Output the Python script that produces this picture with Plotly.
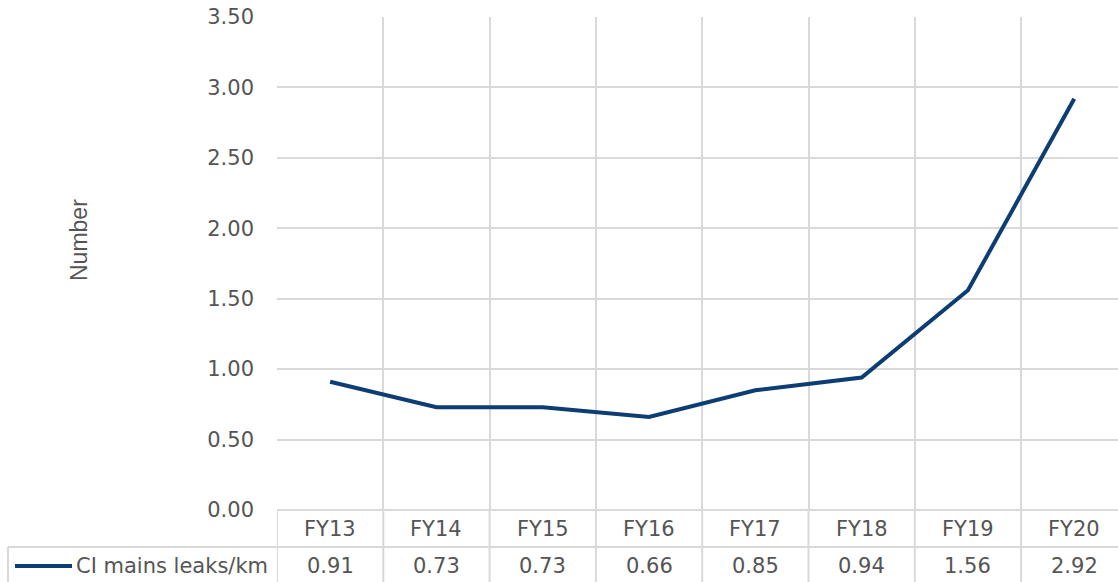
import plotly.graph_objects as go
import numpy as np

categories = ["FY13", "FY14", "FY15", "FY16", "FY17", "FY18", "FY19", "FY20"]
values = [0.91, 0.73, 0.73, 0.66, 0.85, 0.94, 1.56, 2.92]
series_name = "CI mains leaks/km"
y_title = "Number"

W, H = 1118, 582
L, T, B = 277, 17, 72
plot_w = W - L
plot_h = H - T - B
col_px = 106.3
x_min = -0.5
x_max = x_min + plot_w / col_px

txt = "#555555"
grid = "#d9d9d9"
line_c = "#0c3d73"
font_main = "DejaVu Sans"
fs = 21

def py(Y):  # pixel y -> paper y
    return (H - B - Y) / plot_h

def px(X):  # pixel x -> paper x
    return (X - L) / plot_w

xs = list(range(len(categories)))

fig = go.Figure()
fig.add_trace(go.Scatter(x=xs, y=values, mode="lines",
                         line=dict(color=line_c, width=4),
                         name=series_name, showlegend=False))

shapes = []
for b in np.arange(-0.5, len(categories), 1.0):
    shapes.append(dict(type="line", xref="x", yref="paper", x0=b, x1=b,
                       y0=py(582 + 5), y1=0, line=dict(color=grid, width=2), layer="below"))
shapes.append(dict(type="line", xref="paper", yref="paper", x0=0, x1=1.02,
                   y0=0, y1=0, line=dict(color=grid, width=2), layer="below"))
shapes.append(dict(type="line", xref="paper", yref="paper", x0=px(8), x1=1.02,
                   y0=py(547), y1=py(547), line=dict(color=grid, width=2), layer="below"))
shapes.append(dict(type="line", xref="paper", yref="paper", x0=px(8), x1=px(8),
                   y0=py(547), y1=py(590), line=dict(color=grid, width=2), layer="below"))
shapes.append(dict(type="line", xref="paper", yref="paper", x0=px(15), x1=px(72),
                   y0=py(566), y1=py(566), line=dict(color=line_c, width=4)))

annotations = []
for i, c in enumerate(categories):
    annotations.append(dict(x=i, y=py(529), xref="x", yref="paper", text=c,
                            showarrow=False, font=dict(family=font_main, size=fs, color=txt),
                            xanchor="center", yanchor="middle"))
    annotations.append(dict(x=i, y=py(566), xref="x", yref="paper", text=f"{values[i]:.2f}",
                            showarrow=False, font=dict(family=font_main, size=fs, color=txt),
                            xanchor="center", yanchor="middle"))
annotations.append(dict(x=px(270), y=py(566), xref="paper", yref="paper", text=series_name,
                        showarrow=False, font=dict(family=font_main, size=fs, color=txt),
                        xanchor="right", yanchor="middle"))
annotations.append(dict(x=px(79), y=py(240), xref="paper", yref="paper", text=y_title,
                        textangle=-90, showarrow=False,
                        font=dict(family="Liberation Sans", size=23, color=txt),
                        xanchor="center", yanchor="middle"))

fig.update_layout(
    width=W, height=H,
    margin=dict(l=L, r=0, t=T, b=B, pad=0),
    paper_bgcolor="white", plot_bgcolor="white",
    shapes=shapes, annotations=annotations,
    xaxis=dict(range=[x_min, x_max], tick0=-0.5, dtick=1, showticklabels=False,
               showgrid=True, gridcolor=grid, gridwidth=2, zeroline=False, showline=False),
    yaxis=dict(range=[0, 3.5], dtick=0.5, tickformat=".2f", showgrid=True,
               gridcolor=grid, gridwidth=2, zeroline=False, showline=False,
               ticklabelstandoff=22,
               tickfont=dict(family=font_main, size=fs, color=txt)),
)

fig.write_html("out.html")
